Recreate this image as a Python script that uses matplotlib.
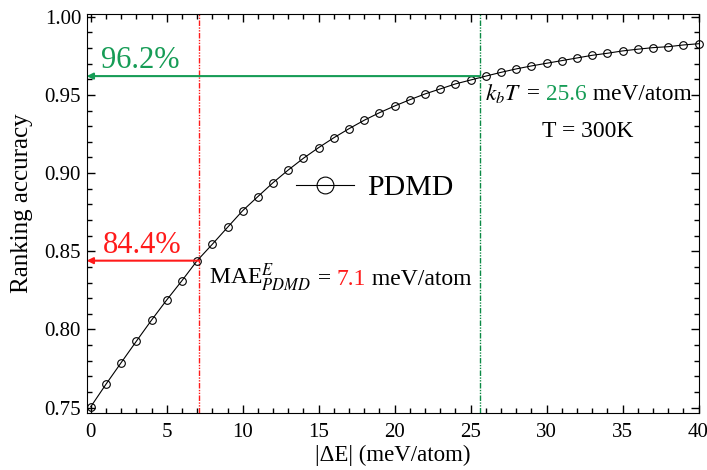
import matplotlib
matplotlib.use('Agg')
import matplotlib.pyplot as plt
from matplotlib import transforms
from matplotlib.ticker import MultipleLocator, FormatStrFormatter
import numpy as np

plt.rcParams['font.family'] = ['Liberation Serif', 'DejaVu Serif']
plt.rcParams['mathtext.fontset'] = 'stix'

# ranking accuracy vs energy gap threshold
delta_e = np.arange(0, 41)
accuracy = [0.7506, 0.765, 0.7788, 0.7925, 0.806, 0.8189, 0.8312, 0.844, 0.8545, 0.8653,
            0.876, 0.885, 0.8939, 0.902, 0.9095, 0.9163, 0.9226, 0.9284, 0.9338, 0.9386,
            0.9429, 0.9469, 0.9506, 0.9538, 0.957, 0.9595, 0.962, 0.9644, 0.9666, 0.9685,
            0.9702, 0.9719, 0.9736, 0.9753, 0.9766, 0.9781, 0.9792, 0.9802, 0.9808, 0.9819,
            0.9827]

mae = 7.1
mae_acc = 0.844
kbt = 25.6
kbt_acc = 0.962

red = '#ff1a1a'
green = '#169c56'

fig = plt.figure(figsize=(7.07, 4.70), dpi=100)
ax = fig.add_axes([0.1226, 0.1206, 0.8665, 0.8496])
x0 = -0.27

ax.plot(delta_e, accuracy, '-o', color='black', lw=0.8, ms=5.5, mfc='none', mew=0.8,
        clip_on=False, label='PDMD', zorder=3)

# reference lines for MAE and kT
ax.axvline(mae, color=red, lw=1.0, ls=(0, (4, 1, 1, 1, 1, 1)))
ax.axvline(kbt, color='#0b8a45', lw=1.0, ls=(0, (4, 1, 1, 1, 1, 1)))
ax.annotate('', xy=(x0, mae_acc), xytext=(mae, mae_acc),
            arrowprops=dict(arrowstyle='-|>', color=red, lw=1.5, mutation_scale=9,
                            shrinkA=0, shrinkB=0))
ax.annotate('', xy=(x0, kbt_acc), xytext=(kbt, kbt_acc),
            arrowprops=dict(arrowstyle='-|>', color=green, lw=1.5, mutation_scale=9,
                            shrinkA=0, shrinkB=0))

ax.text(0.7, 0.9672, '96.2%', color=green, fontsize=22, va='baseline')
ax.text(0.8, 0.849, '84.4%', color=red, fontsize=22, va='baseline')


def text_parts(x, y, parts, size):
    r = fig.canvas.get_renderer()
    dx = 0
    for s, c in parts:
        tr = transforms.offset_copy(ax.transData, fig=fig, x=dx, y=0, units='dots')
        t = ax.text(x, y, s, color=c, fontsize=size, va='baseline', transform=tr)
        dx += t.get_window_extent(r).width


text_parts(7.8, 0.8285, [(r'MAE$^{E}_{PDMD}$', 'black'), (' = ', 'black'),
                         ('7.1', red), (' meV/atom', 'black')], 17)
text_parts(25.95, 0.9467, [(r'$k_bT$', 'black'), (' = ', 'black'),
                           ('25.6', green), (' meV/atom', 'black')], 16.8)
ax.text(32.7, 0.9233, 'T = 300K', fontsize=17, ha='center', va='baseline')

ax.set_xlim(x0, 40.05)
ax.set_ylim(0.7464, 1.0017)
ax.xaxis.set_major_locator(MultipleLocator(5))
ax.xaxis.set_minor_locator(MultipleLocator(1))
ax.yaxis.set_major_locator(MultipleLocator(0.05))
ax.yaxis.set_minor_locator(MultipleLocator(0.01))
ax.yaxis.set_major_formatter(FormatStrFormatter('%.2f'))
ax.tick_params(which='both', direction='in', top=True, right=True, labelsize=15, width=1)
ax.tick_params(which='major', length=6)
ax.tick_params(which='minor', length=3.5)
ax.tick_params(axis='x', pad=7)
ax.tick_params(axis='y', pad=4)

ax.set_xlabel('|ΔE| (meV/atom)', fontsize=16.5, labelpad=2)
ax.set_ylabel('Ranking accuracy', fontsize=18)
ax.yaxis.set_label_coords(-0.088, 0.527)

ax.legend(loc='center', bbox_to_anchor=(0.47, 0.565), frameon=False, fontsize=21.5,
          markerscale=2.2, handlelength=1.95, handletextpad=0.45)

fig.savefig('out.png', dpi=100)
plt.close()
